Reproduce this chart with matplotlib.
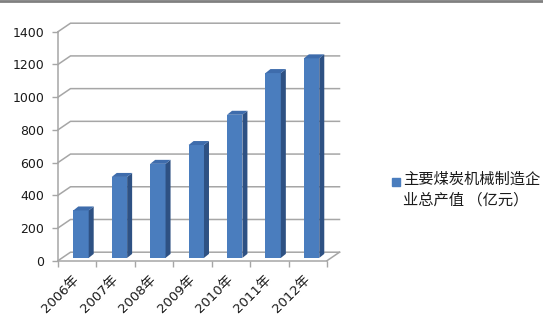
import matplotlib
matplotlib.use("Agg")
import matplotlib.pyplot as plt
from matplotlib.patches import Polygon, Rectangle
from matplotlib.lines import Line2D

plt.rcParams['font.family'] = ['DejaVu Sans', 'Noto Sans CJK SC']

years = ["2006年", "2007年", "2008年", "2009年", "2010年", "2011年", "2012年"]
values = [290, 495, 575, 690, 875, 1130, 1220]
legend_label = "主要煤炭机械制造企\n业总产值 （亿元）"
yticks = [0, 200, 400, 600, 800, 1000, 1200, 1400]

front = "#4A7DBE"
side = "#2E5183"
top = "#3E6CAC"
grid = "#A6A6A6"

W, H = 543, 328
fig = plt.figure(figsize=(W / 100, H / 100), dpi=100)
# axes = front plane of the 3d box (pixels: x 58..327, y 31.7..260.7)
x0, x1, ytop, ybot = 58, 327, 31.7, 260.7
ax = fig.add_axes([x0 / W, 1 - ybot / H, (x1 - x0) / W, (ybot - ytop) / H])
n = len(years)
ax.set_xlim(-0.5, n - 0.5)
ax.set_ylim(0, 1400)

ppx = (x1 - x0) / n          # pixels per category
ppy = (ybot - ytop) / 1400   # pixels per value unit
def px(dx, dy):
    return dx / ppx, dy / ppy

# back wall gridlines
wdx, wdy = px(12.5, 8.5)
for v in yticks:
    ax.add_line(Line2D([-0.5, -0.5 + wdx, n - 0.5 + wdx], [v, v + wdy, v + wdy],
                       color=grid, lw=1.1, clip_on=False, zorder=1))
ax.add_line(Line2D([n - 0.5, n - 0.5 + wdx], [0, wdy], color=grid, lw=1.1, clip_on=False, zorder=1))

# bars
bw = 0.40
ox, oy = px(3.8, 2.8)
ddx, ddy = px(5, 4)
for i, v in enumerate(values):
    xl = i - bw / 2 + ox
    xr = xl + bw
    ax.bar(i + ox, v, width=bw, bottom=oy, color=front, zorder=3, clip_on=False)
    ax.add_patch(Polygon([(xr, oy), (xr + ddx, oy + ddy), (xr + ddx, oy + v + ddy), (xr, oy + v)],
                         closed=True, color=side, zorder=3, clip_on=False, lw=0))
    ax.add_patch(Polygon([(xl, oy + v), (xl + ddx, oy + v + ddy), (xr + ddx, oy + v + ddy), (xr, oy + v)],
                         closed=True, color=top, zorder=3, clip_on=False, lw=0))

for s in ["top", "right"]:
    ax.spines[s].set_visible(False)
for s in ["left", "bottom"]:
    ax.spines[s].set_color(grid)
    ax.spines[s].set_linewidth(1.1)
ax.patch.set_visible(False)

ax.set_yticks(yticks)
ax.set_yticklabels([str(v) for v in yticks], fontsize=9, color="#1a1a1a")
ax.tick_params(axis="y", length=4, width=1, color=grid, pad=6)

ax.set_xticks(range(n))
ax.set_xticks([i - 0.5 for i in range(n + 1)], minor=True)
ax.set_xticklabels(years, fontsize=9.5, color="#1a1a1a", rotation=45, ha="right",
                   va="center", rotation_mode="anchor")
ax.tick_params(axis="x", which="major", length=0, pad=12)
ax.tick_params(axis="x", which="minor", length=4, width=1, color=grid)

# legend
fig.patches.append(Rectangle((392 / W, 1 - 185.5 / H), 7.5 / W, 7.5 / H,
                             transform=fig.transFigure, color=front))
fig.text(403 / W, 1 - 171 / H, legend_label, fontsize=11, va="top", ha="left",
         family=["Noto Sans CJK SC", "DejaVu Sans"], color="#1a1a1a", linespacing=1.3)

# frame line at top
fig.add_artist(Line2D([0, 1], [1 - 1 / H, 1 - 1 / H], transform=fig.transFigure,
                      color="#808080", lw=2))

fig.savefig("out.png", dpi=100, facecolor="white")
